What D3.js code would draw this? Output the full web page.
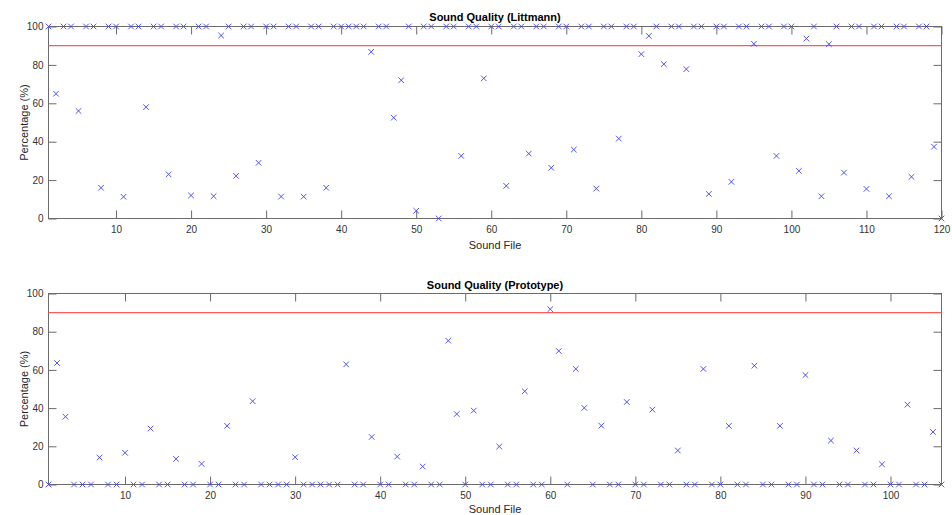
<!DOCTYPE html>
<html lang="en">
    <head>
        <meta charset="utf-8">
        <title>Sound Quality</title>
        <script src="https://d3js.org/d3.v7.min.js"></script>
        <style type="text/css">
        body { margin: 0; background: #fff; }
        .title { font-size: 11px; font-weight: bold; font-family: "Liberation Sans", Arial, sans-serif; fill: #000; }
        .label { font-size: 11px; font-family: "Liberation Sans", Arial, sans-serif; fill: #262626; }
        .tick text { font-size: 10px; font-family: "Liberation Sans", Arial, sans-serif; fill: #333; }
        .tick line { stroke: #6b6b6b; }
        .box { fill: none; stroke: #6b6b6b; stroke-width: 1; }
        </style>
    </head>
    <body>
    <div id="vis"></div>

    <script type="text/javascript">

        // percentage per sound file, file number = index + 1
        const littmann = [
            100, 65, 100, 100, 56, 100, 100, 16, 100, 100,
            11.3, 100, 100, 58, 100, 100, 23, 100, 100, 12,
            100, 100, 11.6, 95.3, 100, 22.2, 100, 100, 29, 100,
            100, 11.4, 100, 100, 11.4, 100, 100, 16, 100, 100,
            100, 100, 100, 86.8, 100, 100, 52.5, 72, 100, 4,
            100, 100, 0, 100, 100, 32.6, 100, 100, 73, 100,
            100, 17, 100, 100, 33.8, 100, 100, 26.4, 100, 100,
            35.9, 100, 100, 15.6, 100, 100, 41.6, 100, 100, 85.6,
            95.1, 100, 80.4, 100, 100, 77.8, 100, 100, 12.8, 100,
            100, 19.1, 100, 100, 91, 100, 100, 32.6, 100, 100,
            24.8, 93.7, 100, 11.6, 90.8, 100, 23.9, 100, 100, 15.4,
            100, 100, 11.6, 100, 100, 21.7, 100, 100, 37.4, 0
        ];

        const prototype = [
            0, 63.6, 35.5, 0, 0, 0, 14.1, 0, 0, 16.6,
            0, 0, 29.3, 0, 0, 13.4, 0, 0, 10.8, 0,
            0, 30.7, 0, 0, 43.6, 0, 0, 0, 0, 14.3,
            0, 0, 0, 0, 0, 62.9, 0, 0, 24.9, 0,
            0, 14.6, 0, 0, 9.4, 0, 0, 75.3, 36.9, 0,
            38.7, 0, 0, 19.9, 0, 0, 48.8, 0, 0, 91.8,
            69.9, 0, 60.5, 40.1, 0, 30.8, 0, 0, 43.2, 0,
            0, 39.2, 0, 0, 17.8, 0, 0, 60.5, 0, 0,
            30.7, 0, 0, 62.2, 0, 0, 30.7, 0, 0, 57.3,
            0, 0, 23.0, 0, 0, 17.8, 0, 0, 10.6, 0,
            0, 41.8, 0, 0, 27.5, 0
        ];

        const threshold = 90;
        const yTicks = [0, 20, 40, 60, 80, 100];
        const xTicksTop = [10, 20, 30, 40, 50, 60, 70, 80, 90, 100, 110, 120];
        const xTicksBottom = [10, 20, 30, 40, 50, 60, 70, 80, 90, 100];

        const width = 952;
        const height = 515;
        const left = 48.5, right = 941.5;

        const svg = d3.select("#vis")
                      .append("svg")
                      .attr("width", width)
                      .attr("height", height);

        function panel(values, title, xTicks, top, bottom, titleY, labelY) {
            const n = values.length;
            const xScale = d3.scaleLinear().domain([1, n]).range([left, right]);
            const yScale = d3.scaleLinear().domain([0, 100]).range([bottom, top]);

            const g = svg.append("g");

            // ticks point inward on all four sides
            const axes = [
                [d3.axisBottom(xScale).tickValues(xTicks).tickPadding(7), "translate(0," + bottom + ")", true],
                [d3.axisTop(xScale).tickValues(xTicks).tickFormat(""), "translate(0," + top + ")", false],
                [d3.axisLeft(yScale).tickValues(yTicks).tickPadding(5), "translate(" + left + ",0)", true],
                [d3.axisRight(yScale).tickValues(yTicks).tickFormat(""), "translate(" + right + ",0)", false]
            ];
            axes.forEach(a => {
                const ax = g.append("g")
                            .attr("transform", a[1])
                            .call(a[0].tickSizeInner(-8).tickSizeOuter(0));
                ax.select(".domain").remove();
                if (!a[2]) ax.selectAll("text").remove();
            });

            g.append("rect")
             .attr("class", "box")
             .attr("x", left)
             .attr("y", top)
             .attr("width", right - left)
             .attr("height", bottom - top);

            // 90 % line
            g.append("line")
             .attr("x1", left)
             .attr("x2", right)
             .attr("y1", yScale(threshold))
             .attr("y2", yScale(threshold))
             .attr("stroke", "#ff5a5a")
             .attr("stroke-width", 1.2);

            g.selectAll("path.mark")
             .data(values)
             .enter()
             .append("path")
             .attr("class", "mark")
             .attr("fill", "none")
             .attr("stroke", "#4040ff")
             .attr("stroke-width", 0.9)
             .attr("transform", (d, i) => "translate(" + xScale(i + 1) + "," + yScale(d) + ")")
             .attr("d", "M-2.8,-2.8L2.8,2.8M-2.8,2.8L2.8,-2.8");

            g.append("text")
             .attr("class", "title")
             .attr("x", (left + right) / 2)
             .attr("y", titleY)
             .attr("text-anchor", "middle")
             .text(title);

            g.append("text")
             .attr("class", "label")
             .attr("x", (left + right) / 2)
             .attr("y", labelY)
             .attr("text-anchor", "middle")
             .text("Sound File");

            g.append("text")
             .attr("class", "label")
             .attr("text-anchor", "middle")
             .attr("transform", "translate(28," + (top + bottom) / 2 + ") rotate(-90)")
             .text("Percentage (%)");
        }

        panel(littmann, "Sound Quality (Littmann)", xTicksTop, 26.5, 218.5, 21, 249);
        panel(prototype, "Sound Quality (Prototype)", xTicksBottom, 293.5, 484.5, 288.5, 513);

    </script>
    </body>
</html>
